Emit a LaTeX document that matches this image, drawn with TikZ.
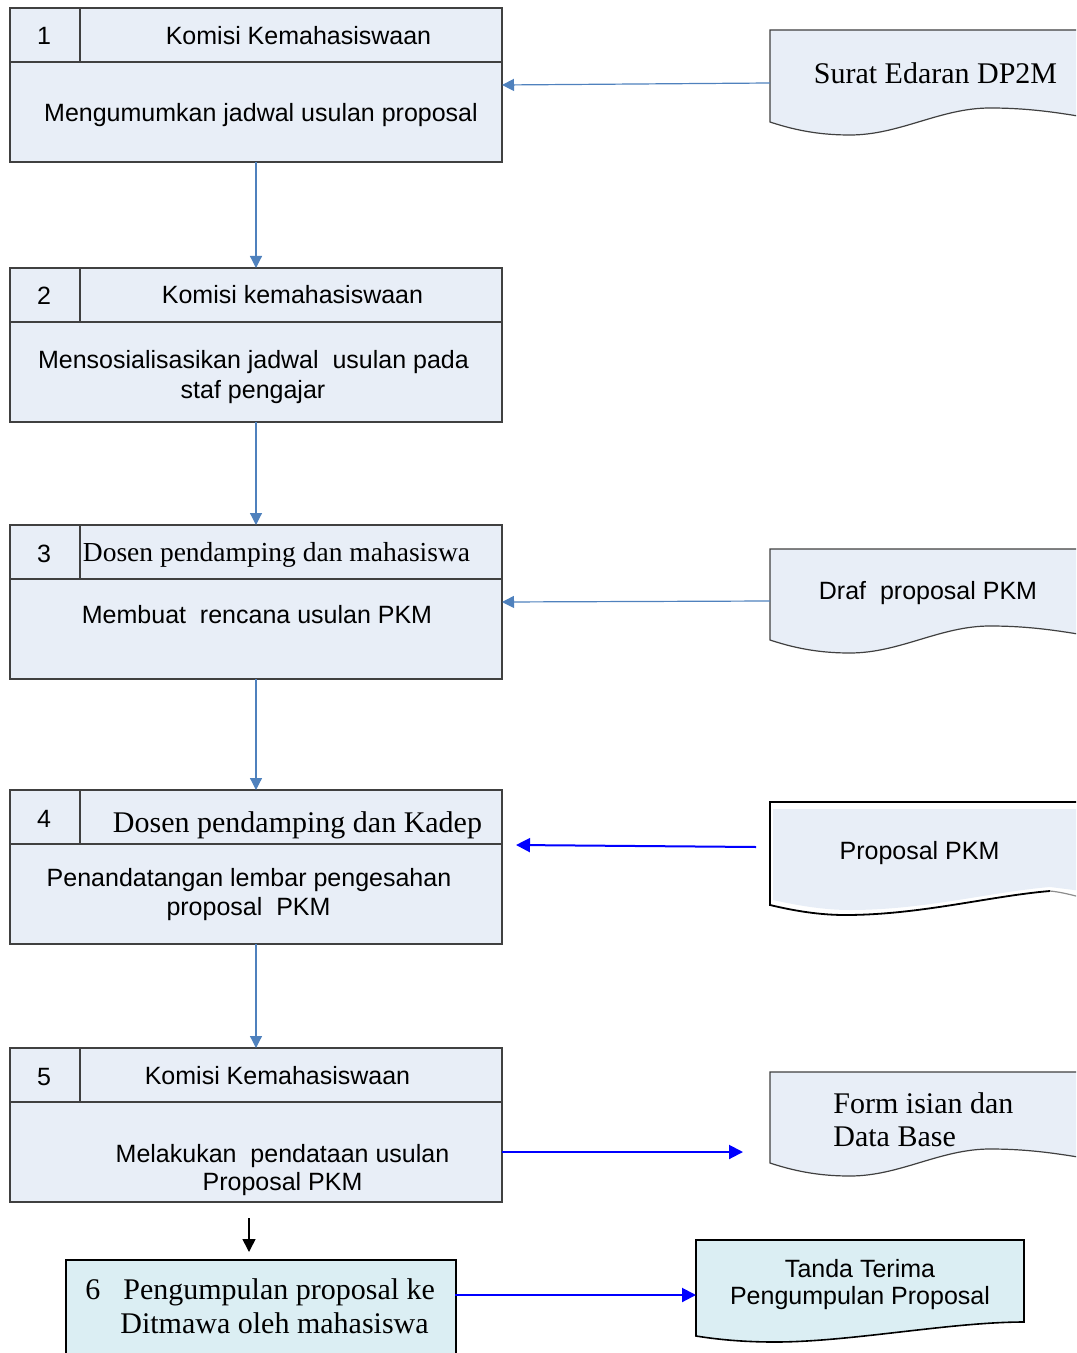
\documentclass[tikz,border=0pt]{standalone}
\usepackage{fontspec}
\setmainfont{Liberation Serif}
\newfontfamily\arialfont{Liberation Sans}
\usetikzlibrary{arrows.meta,calc}

\definecolor{boxfill}{RGB}{232,238,247}
\definecolor{cyanfill}{RGB}{219,238,243}
\definecolor{steel}{RGB}{79,129,189}
\definecolor{edge}{RGB}{64,64,64}

\begin{document}
\begin{tikzpicture}[x=0.5pt,y=-0.5pt,
  procbox/.style={rectangle, draw=edge, line width=0.6pt, fill=boxfill,
    minimum width=246pt, minimum height=77pt, inner sep=0pt, outer sep=0pt,
    anchor=north west},
  rule/.style={draw=edge, line width=0.6pt},
  sans/.style={font=\arialfont\fontsize{12.5}{15}\selectfont, inner sep=0pt, anchor=base, yshift=-1pt},
  serif/.style={font=\fontsize{15}{18}\selectfont, inner sep=0pt, anchor=base},
  doc/.style={fill=boxfill, draw=edge, line width=0.6pt},
  flow/.style={draw=steel, line width=0.6pt, -{Triangle[length=6pt,width=6pt]}},
  blueflow/.style={draw=blue, line width=1pt, -{Triangle[length=7pt,width=7pt]}},
  blackflow/.style={draw=black, line width=0.8pt, -{Triangle[length=6.5pt,width=6.5pt]}}]

\useasboundingbox (0,0) rectangle (1076,1353);
\clip (0,0) rectangle (1076,1353);

% ---------- documents on the right ----------
\path[doc] (1090,30) -- (770,30) -- (770,122)
  .. controls (800,132) and (825,135) .. (850,135)
  .. controls (900,135) and (940,108) .. (990,108)
  .. controls (1030,108) and (1060,113) .. (1090,118) -- cycle;
\path[doc] (1090,549) -- (770,549) -- (770,640)
  .. controls (800,650) and (825,653) .. (850,653)
  .. controls (900,653) and (940,626) .. (990,626)
  .. controls (1030,626) and (1060,631) .. (1090,636) -- cycle;
% proposal sheet: fill slightly offset from its outline
\fill[boxfill] (1090,809) -- (773,809) -- (773,900)
  .. controls (800,906) and (825,910) .. (850,910)
  .. controls (925,910) and (990,892) .. (1050,887)
  -- (1090,892) -- cycle;
\draw[black, line width=0.9pt] (1090,802) -- (770,802) -- (770,905)
  .. controls (795,911) and (820,915) .. (845,915)
  .. controls (920,915) and (990,896) .. (1050,891);
\draw[edge!60, line width=0.6pt] (1050,891) .. controls (1060,892) and (1068,894) .. (1080,897);
\path[doc] (1090,1072) -- (770,1072) -- (770,1163)
  .. controls (800,1173) and (825,1176) .. (850,1176)
  .. controls (900,1176) and (940,1149) .. (990,1149)
  .. controls (1030,1149) and (1060,1154) .. (1090,1159) -- cycle;
\path[fill=cyanfill, draw=black, line width=0.8pt] (696,1240) -- (1024,1240) -- (1024,1322)
  .. controls (950,1322) and (850,1342) .. (775,1342)
  .. controls (740,1342) and (715,1339) .. (696,1336) -- cycle;

\node[serif] (d1) at (935.5,84) {Surat Edaran DP2M};
\node[sans] (d2) at (928,597) {Draf~~proposal PKM};
\node[sans] (d3) at (919.5,857) {Proposal PKM};
\node[serif, anchor=base west] (d4a) at (833,1113) {Form isian dan};
\node[serif, anchor=base west] (d4b) at (833,1146) {Data Base};
\node[sans] (d5a) at (860,1275) {Tanda Terima};
\node[sans] (d5b) at (860,1302) {Pengumpulan Proposal};

% ---------- process boxes ----------
\foreach \i/\y in {1/8,2/268,3/525,4/790,5/1048}{
  \node[procbox] (b\i) at (10,\y) {};
  \draw[rule] ($(b\i.north west)+(0,54)$) -- ($(b\i.north east)+(0,54)$);
  \draw[rule] ($(b\i.north west)+(70,0)$) -- ($(b\i.north west)+(70,54)$);
  \node[sans] (n\i) at ($(b\i.north west)+(34,35)$) {\i};
}

\node[sans] (h1) at (298.5,43) {Komisi Kemahasiswaan};
\node[sans] (t1) at (261,120) {Mengumumkan jadwal usulan proposal};

\node[sans] (h2) at (292.5,302) {Komisi kemahasiswaan};
\node[sans] (t2a) at (253.5,367) {Mensosialisasikan jadwal~~usulan pada};
\node[sans] (t2b) at (253,396) {staf pengajar};

\node[serif, font=\fontsize{13.75}{16}\selectfont] (h3) at (276.5,561) {Dosen pendamping dan mahasiswa};
\node[sans] (t3) at (257,621) {Membuat~~rencana usulan PKM};

\node[serif] (h4) at (297.5,832) {Dosen pendamping dan Kadep};
\node[sans] (t4a) at (249,884) {Penandatangan lembar pengesahan};
\node[sans] (t4b) at (248.5,913) {proposal~~PKM};

\node[sans] (h5) at (277.5,1082) {Komisi Kemahasiswaan};
\node[sans] (t5a) at (282.5,1160) {Melakukan~~pendataan usulan};
\node[sans] (t5b) at (282.5,1188) {Proposal PKM};

\node[rectangle, draw=black, line width=1pt, fill=cyanfill, minimum width=195pt,
  minimum height=56pt, inner sep=0pt, anchor=north west] (b6) at (65,1259) {};
\node[serif, anchor=base west] (t6a) at (85,1299) {\makebox[19pt][l]{6}Pengumpulan proposal ke};
\node[serif, anchor=base west] (t6b) at (120,1333) {Ditmawa oleh mahasiswa};

% ---------- connectors ----------
\coordinate (d1in) at (770,83);
\draw[flow] (d1in) -- (b1.east);
\draw[flow] (b1.south) -- (b2.north);
\draw[flow] (b2.south) -- (b3.north);
\coordinate (d2in) at (770,601);
\draw[flow] (d2in) -- (b3.east);
\draw[flow] (b3.south) -- (b4.north);
\coordinate (d3out) at (756,847);
\coordinate (b4in) at (516,845);
\draw[blueflow] (d3out) -- (b4in);
\draw[flow] (b4.south) -- (b5.north);
\coordinate (b5out) at (502,1152);
\coordinate (d4in) at (743,1152);
\draw[blueflow] (b5out) -- (d4in);
\coordinate (kx) at (249,0);
\draw[blackflow, shorten <=8pt, shorten >=3.5pt] (b5.south -| kx) -- (b6.north -| kx);
\coordinate (b6out) at (455,1295);
\coordinate (d5in) at (696,1295);
\draw[blueflow] (b6out) -- (d5in);
\end{tikzpicture}
\end{document}
